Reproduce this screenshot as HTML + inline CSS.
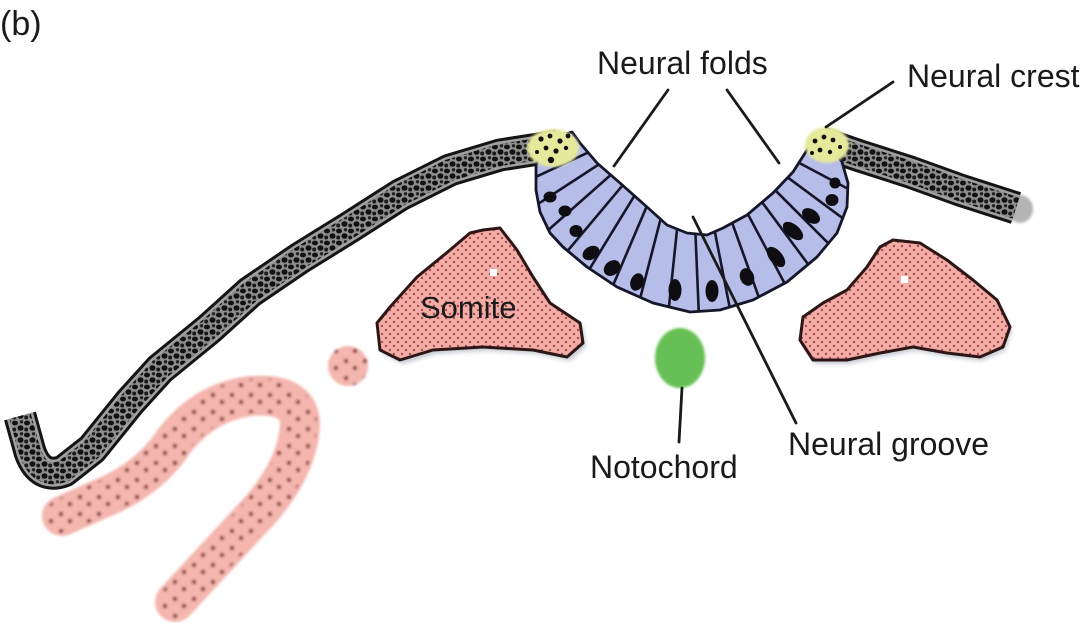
<!DOCTYPE html>
<html><head><meta charset="utf-8"><style>
html,body{margin:0;padding:0;background:#fff;}
svg{display:block;}
text{font-family:"Liberation Sans",Arial,sans-serif;fill:#1a1a1a;}
</style></head><body>
<svg width="1088" height="633" viewBox="0 0 1088 633" xmlns="http://www.w3.org/2000/svg">
<defs>
  <pattern id="bandPat" width="12" height="12" patternUnits="userSpaceOnUse">
    <rect width="12" height="12" fill="#8e8e8e"/>
    <ellipse cx="3" cy="3" rx="3" ry="2.4" fill="#111"/>
    <ellipse cx="8.5" cy="8" rx="3" ry="2.8" fill="#111"/>
    <circle cx="9.5" cy="1.8" r="1.7" fill="#222"/>
    <circle cx="2.2" cy="9.5" r="2" fill="#1a1a1a"/>
  </pattern>
  <pattern id="somPat" width="8" height="8" patternUnits="userSpaceOnUse">
    <rect width="8" height="8" fill="#f3aca6"/>
    <circle cx="2" cy="2" r="1.2" fill="#a85050"/>
    <circle cx="6" cy="6" r="1.2" fill="#a85050"/>
  </pattern>
  <pattern id="uPat" width="19" height="17" patternUnits="userSpaceOnUse">
    <rect width="19" height="17" fill="#f4b6ae"/>
    <circle cx="4" cy="4" r="2.3" fill="#8a3a3e"/>
    <circle cx="13" cy="11" r="2.3" fill="#8a3a3e"/>
  </pattern>
  <clipPath id="plateClip">
    <path d="M548,140 L536,165 L536,190 L540,212 L550,233 L563,247 L587,267 L617,287 L653,303 L690,312 L720,310 L753,300 L787,282 L817,257 L837,233 L847,207 L848,183 L842,162 L830,145 L815,135 L807,150 L793,172 L773,193 L747,215 L723,228 L707,235 L687,233 L667,225 L647,207 L620,183 L597,163 L580,143 L572,132 Z"/>
  </clipPath>
  <filter id="soft" x="-10%" y="-10%" width="120%" height="120%"><feGaussianBlur stdDeviation="1.2"/></filter>
  <filter id="soft2" x="-20%" y="-20%" width="140%" height="140%"><feGaussianBlur stdDeviation="2"/></filter>
</defs>

<!-- pink U-shaped mesoderm -->
<g filter="url(#soft)">
<path d="M62,516 L105,497 Q150,478 175,440 Q205,402 250,396 Q300,392 300,425 Q298,465 262,508 L175,602" fill="none" stroke="#f4b6ae" stroke-width="40" stroke-linecap="round" stroke-linejoin="round"/>
<path d="M62,516 L105,497 Q150,478 175,440 Q205,402 250,396 Q300,392 300,425 Q298,465 262,508 L175,602" fill="none" stroke="url(#uPat)" stroke-width="34" stroke-linecap="round" stroke-linejoin="round"/>
</g>
<!-- small circle -->
<circle cx="348" cy="366" r="20" fill="url(#uPat)" filter="url(#soft)"/>

<!-- left ectoderm band -->
<g stroke-linejoin="round" fill="none">
<path d="M20,416 L30,452 Q40,480 64,471 L92,449 L130,402 L160,369 L209,329 L250,292 L300,258 L350,227 L400,195 L450,170 L500,155 L558,146" stroke="#141414" stroke-width="33"/>
<path d="M20,416 L30,452 Q40,480 64,471 L92,449 L130,402 L160,369 L209,329 L250,292 L300,258 L350,227 L400,195 L450,170 L500,155 L558,146" stroke="#a0a0a0" stroke-width="27"/>
<path d="M20,416 L30,452 Q40,480 64,471 L92,449 L130,402 L160,369 L209,329 L250,292 L300,258 L350,227 L400,195 L450,170 L500,155 L558,146" stroke="url(#bandPat)" stroke-width="22"/>
</g>

<!-- right ectoderm band -->
<ellipse cx="1020" cy="209" rx="13" ry="14" fill="#b4b4b4" filter="url(#soft)"/>
<g stroke-linejoin="round" fill="none">
<path d="M822,143 L860,156 L910,172 L960,190 L1016,208" stroke="#141414" stroke-width="33"/>
<path d="M822,143 L860,156 L910,172 L960,190 L1016,208" stroke="#a0a0a0" stroke-width="27"/>
<path d="M822,143 L860,156 L910,172 L960,190 L1016,208" stroke="url(#bandPat)" stroke-width="22"/>
</g>

<!-- somites -->
<path d="M483,230 L500,228 L517,250 L533,277 L550,303 L580,323 L583,343 L567,357 L533,350 L483,347 L433,350 L400,360 L380,350 L377,323 L390,307 L417,277 L450,250 L470,233 Z" fill="#8e9aa8" opacity="0.5" transform="translate(3,4)" filter="url(#soft2)"/>
<path d="M483,230 L500,228 L517,250 L533,277 L550,303 L580,323 L583,343 L567,357 L533,350 L483,347 L433,350 L400,360 L380,350 L377,323 L390,307 L417,277 L450,250 L470,233 Z" fill="url(#somPat)" stroke="#2e1616" stroke-width="3" stroke-linejoin="round"/>
<rect x="490" y="269" width="7" height="7" fill="#fff"/>
<path d="M893,240 L920,243 L947,260 L973,280 L997,300 L1010,327 L1003,347 L980,357 L947,353 L913,347 L880,353 L847,360 L813,360 L800,340 L803,317 L823,303 L847,290 L867,267 L880,247 Z" fill="#8e9aa8" opacity="0.5" transform="translate(2,4)" filter="url(#soft2)"/>
<path d="M893,240 L920,243 L947,260 L973,280 L997,300 L1010,327 L1003,347 L980,357 L947,353 L913,347 L880,353 L847,360 L813,360 L800,340 L803,317 L823,303 L847,290 L867,267 L880,247 Z" fill="url(#somPat)" stroke="#2e1616" stroke-width="3" stroke-linejoin="round"/>
<rect x="901" y="276" width="7" height="7" fill="#fff"/>

<!-- neural plate -->
<path d="M548,140 L536,165 L536,190 L540,212 L550,233 L563,247 L587,267 L617,287 L653,303 L690,312 L720,310 L753,300 L787,282 L817,257 L837,233 L847,207 L848,183 L842,162 L830,145 L815,135 L807,150 L793,172 L773,193 L747,215 L723,228 L707,235 L687,233 L667,225 L647,207 L620,183 L597,163 L580,143 L572,132 Z" fill="#b5bde8"/>
<g clip-path="url(#plateClip)">
  <g stroke="#16162a" stroke-width="2.6">
    <line x1="690" y1="105" x2="920" y2="227"/>
    <line x1="690" y1="105" x2="899" y2="260"/>
    <line x1="690" y1="105" x2="874" y2="289"/>
    <line x1="690" y1="105" x2="845" y2="314"/>
    <line x1="690" y1="105" x2="812" y2="335"/>
    <line x1="690" y1="105" x2="777" y2="348"/>
    <line x1="690" y1="105" x2="740" y2="360"/>
    <line x1="690" y1="105" x2="701" y2="365"/>
    <line x1="690" y1="105" x2="663" y2="364"/>
    <line x1="690" y1="105" x2="625" y2="357"/>
    <line x1="690" y1="105" x2="588" y2="344"/>
    <line x1="690" y1="105" x2="554" y2="327"/>
    <line x1="690" y1="105" x2="523" y2="304"/>
    <line x1="690" y1="105" x2="495" y2="277"/>
    <line x1="690" y1="105" x2="472" y2="247"/>
    <line x1="690" y1="105" x2="454" y2="215"/>
  </g>
  <g fill="#0d0d12">
    <ellipse cx="550" cy="197" rx="6.5" ry="5.5"/>
    <ellipse cx="565" cy="211" rx="6.5" ry="5.5"/>
    <ellipse cx="576" cy="231" rx="6.5" ry="6"/>
    <ellipse cx="591" cy="253" rx="9" ry="6.5" transform="rotate(-30 591 253)"/>
    <ellipse cx="612" cy="268" rx="9" ry="7" transform="rotate(-40 612 268)"/>
    <ellipse cx="637" cy="282" rx="6.5" ry="9" transform="rotate(20 637 282)"/>
    <ellipse cx="675" cy="290" rx="6.5" ry="11"/>
    <ellipse cx="712" cy="291" rx="6.5" ry="11"/>
    <ellipse cx="747" cy="277" rx="7" ry="9" transform="rotate(-20 747 277)"/>
    <ellipse cx="776" cy="257" rx="6.5" ry="12" transform="rotate(-40 776 257)"/>
    <ellipse cx="793" cy="231" rx="6.5" ry="12" transform="rotate(-50 793 231)"/>
    <ellipse cx="811" cy="216" rx="6.5" ry="10" transform="rotate(-55 811 216)"/>
    <ellipse cx="832" cy="200" rx="6.5" ry="6"/>
    <ellipse cx="835" cy="183" rx="5.5" ry="5.5"/>
  </g>
</g>
<path d="M548,140 L536,165 L536,190 L540,212 L550,233 L563,247 L587,267 L617,287 L653,303 L690,312 L720,310 L753,300 L787,282 L817,257 L837,233 L847,207 L848,183 L842,162 L830,145 L815,135 L807,150 L793,172 L773,193 L747,215 L723,228 L707,235 L687,233 L667,225 L647,207 L620,183 L597,163 L580,143 L572,132 Z" fill="none" stroke="#16162a" stroke-width="2.8" stroke-linejoin="round"/>

<!-- neural crest (yellow) -->
<ellipse cx="553" cy="148" rx="26" ry="19" fill="#e4e99c" filter="url(#soft)"/>
<g fill="#111">
  <circle cx="541" cy="139" r="2.6"/><circle cx="550" cy="136" r="2.4"/><circle cx="560" cy="141" r="2.6"/>
  <circle cx="568" cy="136" r="2.4"/><circle cx="546" cy="148" r="2.4"/><circle cx="556" cy="151" r="2.6"/>
  <circle cx="566" cy="148" r="2.2"/><circle cx="551" cy="160" r="3.2"/><circle cx="537" cy="152" r="2"/>
</g>
<ellipse cx="827" cy="145" rx="22" ry="18" fill="#e4e99c" filter="url(#soft)"/>
<g fill="#111">
  <circle cx="815" cy="141" r="2.4"/><circle cx="824" cy="137" r="2.4"/><circle cx="833" cy="140" r="2.4"/>
  <circle cx="820" cy="150" r="2.4"/><circle cx="830" cy="152" r="2.2"/><circle cx="840" cy="147" r="2"/>
  <circle cx="812" cy="153" r="2"/>
</g>

<!-- notochord -->
<ellipse cx="680" cy="358" rx="25" ry="30" fill="#66c055" filter="url(#soft)"/>

<!-- leader lines -->
<g stroke="#1a1a1a" stroke-width="2.8" stroke-linecap="round">
  <line x1="668" y1="90" x2="614" y2="166"/>
  <line x1="727" y1="90" x2="779" y2="163"/>
  <line x1="893" y1="82" x2="826" y2="127"/>
  <line x1="693" y1="217" x2="796" y2="423"/>
  <line x1="682" y1="388" x2="679" y2="442"/>
</g>

<!-- labels -->
<text x="0" y="35" font-size="34">(b)</text>
<text x="597" y="74" font-size="32">Neural folds</text>
<text x="907" y="87" font-size="32">Neural crest</text>
<text x="420" y="318" font-size="31">Somite</text>
<text x="590" y="478" font-size="32">Notochord</text>
<text x="788" y="455" font-size="32">Neural groove</text>
</svg>
</body></html>
